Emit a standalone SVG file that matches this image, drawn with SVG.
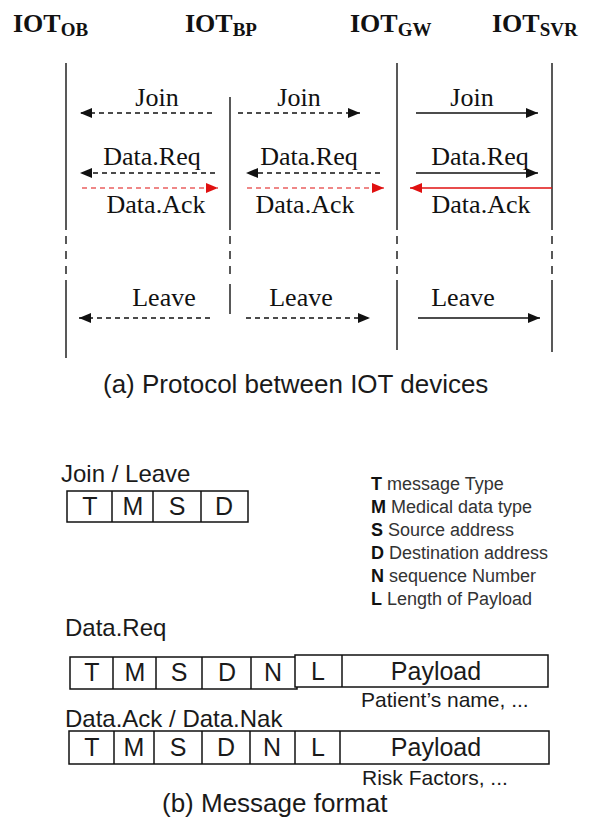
<svg xmlns="http://www.w3.org/2000/svg" width="593" height="819" viewBox="0 0 593 819">
<defs>
<marker id="ah" markerUnits="userSpaceOnUse" markerWidth="14" markerHeight="12" refX="12" refY="5" orient="auto"><path d="M0,0 L12,5 L0,10 z" fill="#111"/></marker>
<marker id="ahr" markerUnits="userSpaceOnUse" markerWidth="14" markerHeight="12" refX="12" refY="5" orient="auto"><path d="M0,0 L12,5 L0,10 z" fill="#e01010"/></marker>
<style>
.ttl{font-family:"Liberation Serif","Times New Roman",serif;font-weight:bold;font-size:26px;fill:#111}
.sub{font-size:19px}
.lbl{font-family:"Liberation Serif","Times New Roman",serif;font-size:26px;fill:#111;text-anchor:middle}
.life{stroke:#222;stroke-width:1.5;fill:none}
.brk{stroke:#222;stroke-width:1.5;fill:none;stroke-dasharray:8,7}
.dsh{stroke:#111;stroke-width:1.5;fill:none;stroke-dasharray:5,4;marker-end:url(#ah)}
.sol{stroke:#111;stroke-width:1.5;fill:none;marker-end:url(#ah)}
.rdsh{stroke:#e01010;stroke-width:1.2;fill:none;stroke-dasharray:5,4;marker-end:url(#ahr)}
.rsol{stroke:#e01010;stroke-width:1.5;fill:none;marker-end:url(#ahr)}
.sans{font-family:"Liberation Sans",Arial,sans-serif;fill:#1a1a1a}
.cap{font-size:26px}
.hd{font-size:24px}
.box{fill:#fff;stroke:#111;stroke-width:1.5}
.div{stroke:#111;stroke-width:1.5}
.fld{font-family:"Liberation Sans",Arial,sans-serif;font-size:25px;fill:#1a1a1a;text-anchor:middle}
.leg{font-family:"Liberation Sans",Arial,sans-serif;font-size:18px;fill:#333}
.leg tspan.k{font-weight:bold;fill:#111}
.note{font-family:"Liberation Sans",Arial,sans-serif;font-size:21px;fill:#1a1a1a}
</style>
</defs>
<rect width="593" height="819" fill="#fff"/>

<g id="node-iot-ob">
<text class="ttl" x="13" y="32">IOT<tspan class="sub" dy="4">OB</tspan></text>
<line class="life" x1="66" y1="63" x2="66" y2="230"/>
<line class="brk" x1="66" y1="236" x2="66" y2="276"/>
<line class="life" x1="66" y1="280" x2="66" y2="358"/>
</g>
<g id="node-iot-bp">
<text class="ttl" x="185" y="32">IOT<tspan class="sub" dy="4">BP</tspan></text>
<line class="life" x1="230" y1="97" x2="230" y2="230"/>
<line class="brk" x1="230" y1="236" x2="230" y2="276"/>
<line class="life" x1="230" y1="284" x2="230" y2="314"/>
</g>
<g id="node-iot-gw">
<text class="ttl" x="350" y="32">IOT<tspan class="sub" dy="4">GW</tspan></text>
<line class="life" x1="397" y1="63" x2="397" y2="230"/>
<line class="brk" x1="397" y1="236" x2="397" y2="276"/>
<line class="life" x1="397" y1="280" x2="397" y2="350"/>
</g>
<g id="node-iot-svr">
<text class="ttl" x="492" y="32">IOT<tspan class="sub" dy="4">SVR</tspan></text>
<line class="life" x1="552" y1="63" x2="552" y2="230"/>
<line class="brk" x1="552" y1="236" x2="552" y2="276"/>
<line class="life" x1="552" y1="280" x2="552" y2="352"/>
</g>

<g id="connectors">
<line class="dsh" x1="212" y1="113" x2="80" y2="113"/>
<line class="dsh" x1="238" y1="113" x2="360" y2="113"/>
<line class="sol" x1="416" y1="113" x2="538" y2="113"/>
<line class="dsh" x1="215" y1="173" x2="80" y2="173"/>
<line class="dsh" x1="380" y1="173" x2="246" y2="173"/>
<line class="sol" x1="416" y1="173" x2="538" y2="173"/>
<line class="rdsh" x1="82" y1="188" x2="218" y2="188"/>
<line class="rdsh" x1="247" y1="188" x2="384" y2="188"/>
<line class="rsol" x1="552" y1="188" x2="410" y2="188"/>
<line class="dsh" x1="210" y1="318" x2="79" y2="318"/>
<line class="dsh" x1="246" y1="318" x2="370" y2="318"/>
<line class="sol" x1="418" y1="318" x2="540" y2="318"/>
<text class="lbl" x="157" y="106">Join</text>
<text class="lbl" x="299" y="106">Join</text>
<text class="lbl" x="472" y="106">Join</text>
<text class="lbl" x="152" y="165">Data.Req</text>
<text class="lbl" x="309" y="165">Data.Req</text>
<text class="lbl" x="480" y="165">Data.Req</text>
<text class="lbl" x="156" y="213">Data.Ack</text>
<text class="lbl" x="305" y="213">Data.Ack</text>
<text class="lbl" x="481" y="213">Data.Ack</text>
<text class="lbl" x="164" y="306">Leave</text>
<text class="lbl" x="301" y="306">Leave</text>
<text class="lbl" x="463" y="306">Leave</text>
</g>

<text class="sans cap" x="103" y="393">(a) Protocol between IOT devices</text>

<g id="msg-join-leave">
<text class="sans hd" x="61" y="482">Join / Leave</text>
<rect class="box" x="67" y="491" width="181" height="31"/>
<line class="div" x1="112" y1="491" x2="112" y2="522"/>
<line class="div" x1="153" y1="491" x2="153" y2="522"/>
<line class="div" x1="201" y1="491" x2="201" y2="522"/>
<text class="fld" x="90" y="515">T</text>
<text class="fld" x="133" y="515">M</text>
<text class="fld" x="177" y="515">S</text>
<text class="fld" x="224" y="515">D</text>
</g>

<g id="legend">
<text class="leg" x="371" y="490"><tspan class="k">T</tspan> message Type</text>
<text class="leg" x="371" y="513"><tspan class="k">M</tspan> Medical data type</text>
<text class="leg" x="371" y="536"><tspan class="k">S</tspan> Source address</text>
<text class="leg" x="371" y="559"><tspan class="k">D</tspan> Destination address</text>
<text class="leg" x="371" y="582"><tspan class="k">N</tspan> sequence Number</text>
<text class="leg" x="371" y="605"><tspan class="k">L</tspan> Length of Payload</text>
</g>

<g id="msg-data-req">
<text class="sans hd" x="65" y="636">Data.Req</text>
<rect class="box" x="70" y="657" width="227" height="32"/>
<rect class="box" x="295" y="655" width="253" height="32"/>
<line class="div" x1="113" y1="657" x2="113" y2="689"/>
<line class="div" x1="156" y1="657" x2="156" y2="689"/>
<line class="div" x1="202" y1="657" x2="202" y2="689"/>
<line class="div" x1="251" y1="657" x2="251" y2="689"/>
<line class="div" x1="342" y1="655" x2="342" y2="687"/>
<text class="fld" x="92" y="681">T</text>
<text class="fld" x="135" y="681">M</text>
<text class="fld" x="179" y="681">S</text>
<text class="fld" x="227" y="681">D</text>
<text class="fld" x="273" y="681">N</text>
<text class="fld" x="318" y="680">L</text>
<text class="fld" x="436" y="680">Payload</text>
<text class="note" x="361" y="707">Patient’s name, ...</text>
</g>

<g id="msg-data-ack">
<text class="sans hd" x="65" y="727">Data.Ack / Data.Nak</text>
<rect class="box" x="69" y="731" width="480" height="33"/>
<line class="div" x1="114" y1="731" x2="114" y2="764"/>
<line class="div" x1="154" y1="731" x2="154" y2="764"/>
<line class="div" x1="202" y1="731" x2="202" y2="764"/>
<line class="div" x1="250" y1="731" x2="250" y2="764"/>
<line class="div" x1="295" y1="731" x2="295" y2="764"/>
<line class="div" x1="340" y1="731" x2="340" y2="764"/>
<text class="fld" x="92" y="756">T</text>
<text class="fld" x="134" y="756">M</text>
<text class="fld" x="178" y="756">S</text>
<text class="fld" x="226" y="756">D</text>
<text class="fld" x="272" y="756">N</text>
<text class="fld" x="318" y="756">L</text>
<text class="fld" x="436" y="756">Payload</text>
<text class="note" x="362" y="785">Risk Factors, ...</text>
</g>

<text class="sans cap" x="162" y="812">(b) Message format</text>
</svg>
